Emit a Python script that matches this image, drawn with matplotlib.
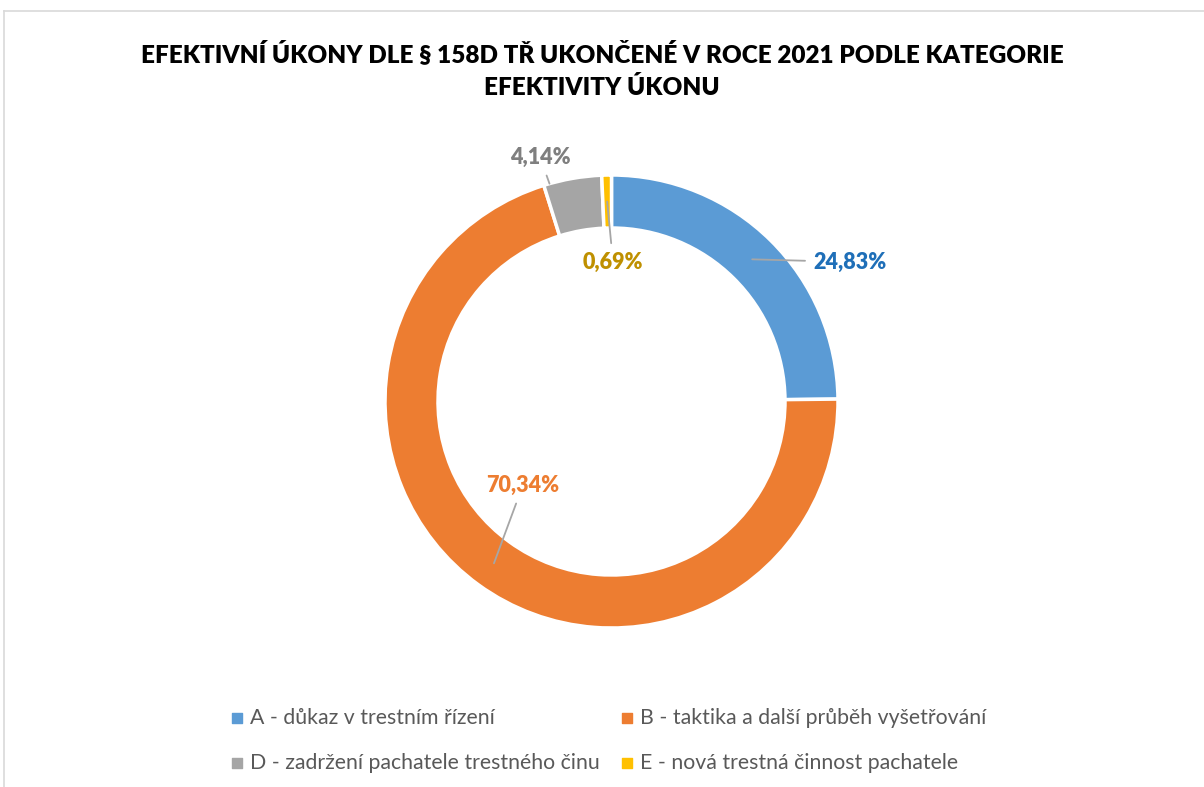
import numpy as np
import matplotlib
matplotlib.use("Agg")
from matplotlib import pyplot as plt
from matplotlib.lines import Line2D

# data
categories = ["A - důkaz v trestním řízení",
              "B - taktika a další průběh vyšetřování",
              "D - zadržení pachatele trestného činu",
              "E - nová trestná činnost pachatele"]
shares = [24.83, 70.34, 4.14, 0.69]
value_labels = ["24,83%", "70,34%", "4,14%", "0,69%"]
colors = ["#5B9BD5", "#ED7D31", "#A5A5A5", "#FFC000"]
label_colors = ["#1F6FB8", "#ED7D31", "#7F7F7F", "#BF9000"]
title = "EFEKTIVNÍ ÚKONY DLE § 158D TŘ UKONČENÉ V ROCE 2021 PODLE KATEGORIE\nEFEKTIVITY ÚKONU"

W, H = 1204, 787
plt.rcParams['font.family'] = ['Lato', 'DejaVu Sans']

fig = plt.figure(figsize=(W / 100, H / 100), dpi=100)
ax = fig.add_axes([0, 0, 1, 1])

def py(y):
    return H - y

cx, cy, r_out, r_in = 611.5, py(401.5), 226.5, 173.5
wedges, _ = ax.pie(shares, colors=colors, startangle=90, counterclock=False,
                   radius=r_out, center=(cx, cy), frame=True,
                   wedgeprops=dict(width=r_out - r_in, edgecolor='white', linewidth=2.5))
ax.set_xlim(0, W)
ax.set_ylim(0, H)
ax.set_aspect('equal')
ax.axis('off')

# label placement (pixel positions of label text) and leader start radius
label_pos = [(850, 262), (523, 485), (540, 157), (613, 262)]
r_mid = (r_out + r_in) / 2
for i, w in enumerate(wedges):
    ang = np.deg2rad((w.theta1 + w.theta2) / 2)
    if i == 2:
        ang = np.deg2rad(w.theta2 - 1.5)
        rr = r_out
    else:
        rr = r_mid
    px, pyy = cx + rr * np.cos(ang), cy + rr * np.sin(ang)
    tx, ty = label_pos[i]
    ax.annotate(value_labels[i], xy=(px, pyy), xytext=(tx, py(ty)),
                ha='center', va='center', fontsize=15.5, fontweight='heavy',
                color=label_colors[i],
                arrowprops=dict(arrowstyle='-', color='#A6A6A6', lw=1.3,
                                shrinkA=4, shrinkB=0))

fig.text(0.5, 1 - 70 / H, title, ha='center', va='center', fontsize=17.5,
         fontweight='heavy', color='#000000', linespacing=1.55)

# legend
leg_pos = [(237, 718), (627, 718), (237, 763), (627, 763)]
for (lx, ly), name, c in zip(leg_pos, categories, colors):
    ax.scatter([lx], [py(ly)], marker='s', s=55, color=c)
    ax.text(lx + 13, py(ly), name, ha='left', va='center', fontsize=15.3, color='#595959')

# chart frame (partial)
fig.add_artist(Line2D([4 / W, 1], [1 - 11 / H, 1 - 11 / H], transform=fig.transFigure,
                      color='#D9D9D9', lw=1.2))
fig.add_artist(Line2D([4 / W, 4 / W], [0, 1 - 11 / H], transform=fig.transFigure,
                      color='#D9D9D9', lw=1.2))

fig.savefig("out.png", dpi=100, facecolor='white')
